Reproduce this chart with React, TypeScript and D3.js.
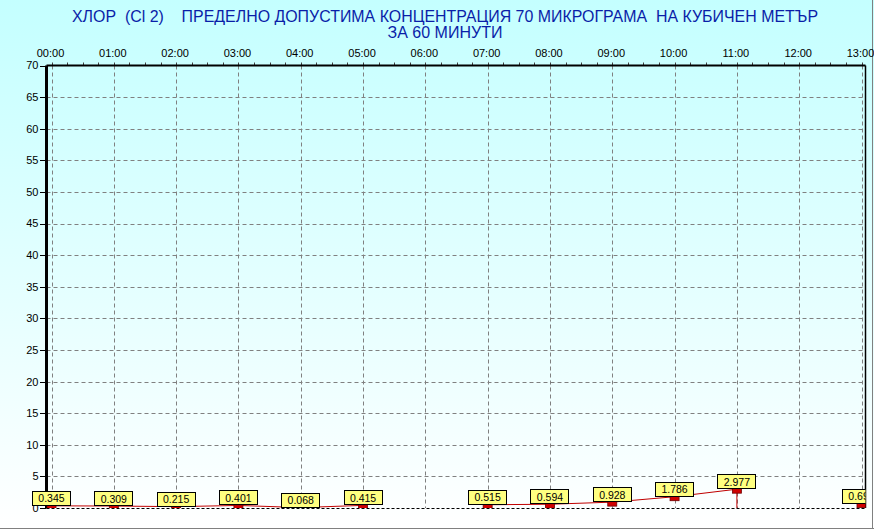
import React, { useEffect } from "react";
import * as d3 from "d3";

const hours = ["00:00","01:00","02:00","03:00","04:00","05:00","06:00","07:00","08:00","09:00","10:00","11:00","12:00","13:00"];
const values: (number | null)[] = [0.345, 0.309, 0.215, 0.401, 0.068, 0.415, null, 0.515, 0.594, 0.928, 1.786, 2.977, null, 0.69];
const yTicks = [0, 5, 10, 15, 20, 25, 30, 35, 40, 45, 50, 55, 60, 65, 70];
const titleLine1 = "ХЛОР  (Cl 2)    ПРЕДЕЛНО ДОПУСТИМА КОНЦЕНТРАЦИЯ 70 МИКРОГРАМА  НА КУБИЧЕН МЕТЪР";
const titleLine2 = "ЗА 60 МИНУТИ";

const W = 874, H = 529;
const left = 46.5, right = 865.5, top = 65.5, bottom = 508;
const FONT = "'Liberation Sans', Arial, sans-serif";
const fmt = d3.format(".3f");

export default function App() {
  useEffect(() => {
    document.body.style.margin = "0";
  }, []);

  const x = d3.scaleLinear().domain([0, 13]).range([51.5, 861.5]);
  const y = d3.scaleLinear().domain([0, 70]).range([bottom, top]);

  const minor = d3.range(0, 13.01, 0.25);

  const segs: { x1: number; y1: number; x2: number; y2: number }[] = [];
  for (let i = 0; i < values.length - 1; i++) {
    const a = values[i], b = values[i + 1];
    if (a != null && b != null) segs.push({ x1: x(i), y1: y(a), x2: x(i + 1), y2: y(b) });
    else if (a != null && b == null) segs.push({ x1: x(i), y1: y(a), x2: x(i), y2: y(0) });
  }

  const boxW = 38, boxH = 15;

  return (
    <svg width={W} height={H} style={{ position: "absolute", left: 0, top: 0, display: "block" }} fontFamily={FONT}>
      <defs>
        <linearGradient id="bg" x1="0" y1="0" x2="0" y2="1">
          <stop offset="0" stopColor="#c4ffff" />
          <stop offset="1" stopColor="#ffffff" />
        </linearGradient>
        <clipPath id="plotClip">
          <rect x={left} y={top} width={right - left} height={bottom - top} />
        </clipPath>
        <clipPath id="labelClip">
          <rect x={0} y={0} width={right} height={H} />
        </clipPath>
      </defs>
      <rect x={0} y={0} width={W} height={H} fill="url(#bg)" />
      <line x1={0} y1={528.5} x2={W} y2={528.5} stroke="#808080" />
      <line x1={872.5} y1={0} x2={872.5} y2={H} stroke="#808080" />

      <text x={445} y={22} textAnchor="middle" fontSize={16} fill="#0a1ea8" textLength={746} lengthAdjust="spacingAndGlyphs" style={{ whiteSpace: "pre" }}>{titleLine1}</text>
      <text x={445} y={38} textAnchor="middle" fontSize={16} fill="#0a1ea8" style={{ whiteSpace: "pre" }}>{titleLine2}</text>

      {/* horizontal grid */}
      {yTicks.filter(t => t > 0 && t < 70).map(t => (
        <line key={"hg" + t} x1={left} x2={right} y1={Math.round(y(t)) + 0.5} y2={Math.round(y(t)) + 0.5} stroke="#808080" strokeDasharray="4,3" />
      ))}
      {/* vertical grid */}
      {hours.map((h, i) => (
        <line key={"vg" + i} x1={Math.round(x(i)) + 0.5} x2={Math.round(x(i)) + 0.5} y1={top} y2={bottom} stroke="#808080" strokeDasharray="4,3" />
      ))}

      {/* minor ticks on top */}
      {minor.map((m, i) => (
        <line key={"mt" + i} x1={Math.round(x(m)) + 0.5} x2={Math.round(x(m)) + 0.5} y1={top - 3} y2={top} stroke="#404040" />
      ))}

      {/* borders */}
      <line x1={left} x2={right} y1={top} y2={top} stroke="#000" strokeWidth={2} />
      <line x1={right} x2={right} y1={top} y2={bottom} stroke="#000" strokeWidth={1.5} />
      <line x1={left} x2={right} y1={bottom + 0.5} y2={bottom + 0.5} stroke="#000" strokeDasharray="3,2" />
      <line x1={left} x2={left} y1={top} y2={bottom} stroke="#000" strokeWidth={3} />

      {/* y ticks & labels */}
      {yTicks.map(t => (
        <g key={"yt" + t}>
          <line x1={40} x2={left} y1={Math.round(y(t)) + 0.5} y2={Math.round(y(t)) + 0.5} stroke="#000" />
          <text x={38.5} y={y(t)} dy="0.36em" textAnchor="end" fontSize={11} fill="#000">{t}</text>
        </g>
      ))}

      {/* x labels */}
      {hours.map((h, i) => (
        <text key={"xl" + i} x={x(i) - 1} y={56.5} textAnchor="middle" fontSize={11} fill="#000">{h}</text>
      ))}

      {/* series */}
      <g clipPath="url(#plotClip)">
        {segs.map((s, i) => (
          <line key={"s" + i} x1={s.x1} y1={s.y1} x2={s.x2} y2={s.y2} stroke="#c00000" strokeWidth={1} />
        ))}
        {values.map((v, i) => v == null ? null : (
          <rect key={"m" + i} x={x(i) - 4.5} y={y(v) - 0.5} width={9} height={4.5} fill="#d00000" stroke="#700000" strokeWidth={0.8} />
        ))}
      </g>

      {/* value labels */}
      <g clipPath="url(#labelClip)">
        {values.map((v, i) => v == null ? null : (
          <g key={"vl" + i}>
            <rect x={Math.round(x(i) - 0.5 - boxW / 2) + 0.5} y={Math.round(y(v) - boxH) + 0.5} width={boxW} height={boxH - 1} fill="#ffff80" stroke="#000" />
            <text x={x(i)} y={y(v) - 3.5} textAnchor="middle" fontSize={10.5} fill="#000">{fmt(v)}</text>
          </g>
        ))}
      </g>
    </svg>
  );
}
